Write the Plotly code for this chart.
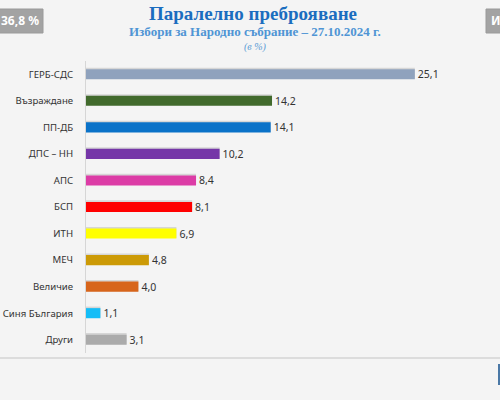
import plotly.graph_objects as go

categories = ["ГЕРБ-СДС", "Възраждане", "ПП-ДБ", "ДПС – НН", "АПС", "БСП", "ИТН",
              "МЕЧ", "Величие", "Синя България", "Други"]
values = [25.1, 14.2, 14.1, 10.2, 8.4, 8.1, 6.9, 4.8, 4.0, 1.1, 3.1]
colors = ["#8fa2bd", "#416a2c", "#0a72c8", "#7536a8", "#dc3ca6", "#ff0000", "#ffff00",
          "#cc9a06", "#d7651b", "#14bdf7", "#ababab"]

W, H = 500, 400
ML, MR, MT, MB = 86, 14, 61, 47
PW, PH = W - ML - MR, H - MT - MB


def px(x):
    return (x - ML) / PW


def py(y):
    return (H - MB - y) / PH


fig = go.Figure()
# soft shadow
fig.add_trace(go.Bar(
    x=values, y=categories, orientation="h",
    marker=dict(color="rgba(0,0,0,0.12)", line=dict(width=0)),
    width=0.42, offset=-0.25, hoverinfo="skip", showlegend=False,
))
fig.add_trace(go.Bar(
    x=values, y=categories, orientation="h",
    marker=dict(color=colors, line=dict(width=0)),
    width=0.38, offset=-0.19,
    text=[f"{v:.1f}".replace(".", ",") for v in values],
    textposition="outside", cliponaxis=False, constraintext="none",
    textfont=dict(family="Noto Sans", size=10.5, color="#333333"),
    showlegend=False,
))

fig.update_layout(
    width=W, height=H,
    margin=dict(l=ML, r=MR, t=MT, b=MB, autoexpand=False),
    paper_bgcolor="#f4f4f4", plot_bgcolor="#f4f4f4",
    barmode="overlay",
    xaxis=dict(range=[0, PW / 13.1], visible=False, automargin=False),
    yaxis=dict(autorange="reversed", showline=True, linecolor="#d6d6d6", linewidth=1,
               ticks="outside", ticklen=0, tickcolor="rgba(0,0,0,0)", ticklabelstandoff=10,
               showgrid=False, automargin=False,
               tickfont=dict(family="Noto Sans", size=9.6, color="#333333")),
    font=dict(family="Noto Sans"),
)

shapes = [
    dict(type="line", xref="paper", yref="paper", x0=px(0), x1=px(500), y0=py(358), y1=py(358),
         line=dict(color="#dcdcdc", width=2)),
    dict(type="rect", xref="paper", yref="paper", x0=px(-6), x1=px(43), y0=py(33), y1=py(9),
         fillcolor="#a3a3a3", line=dict(color="#9a9a9a", width=1)),
    dict(type="rect", xref="paper", yref="paper", x0=px(486), x1=px(506), y0=py(33), y1=py(9),
         fillcolor="#a3a3a3", line=dict(color="#9a9a9a", width=1)),
    dict(type="rect", xref="paper", yref="paper", x0=px(498), x1=px(501), y0=py(385), y1=py(364),
         fillcolor="#4a78a6", line=dict(width=0)),
]
fig.update_layout(shapes=shapes)

ann = [
    dict(text="<b>Паралелно преброяване</b>", x=px(253), y=py(14), xref="paper", yref="paper",
         showarrow=False, xanchor="center", yanchor="middle",
         font=dict(family="Liberation Serif", size=19, color="#1b6dbf")),
    dict(text="<b>Избори за Народно събрание – 27.10.2024 г.</b>", x=px(255), y=py(32),
         xref="paper", yref="paper", showarrow=False, xanchor="center", yanchor="middle",
         font=dict(family="Liberation Serif", size=13, color="#4f94d4")),
    dict(text="<i>(в %)</i>", x=px(255), y=py(47), xref="paper", yref="paper",
         showarrow=False, xanchor="center", yanchor="middle",
         font=dict(family="Liberation Serif", size=10, color="#5b9bd5")),
    dict(text="<b>36,8 %</b>", x=px(41), y=py(21), xref="paper", yref="paper",
         showarrow=False, xanchor="right", yanchor="middle",
         font=dict(family="Noto Sans", size=12, color="#ffffff")),
    dict(text="<b>И</b>", x=px(489), y=py(21), xref="paper", yref="paper",
         showarrow=False, xanchor="left", yanchor="middle",
         font=dict(family="Noto Sans", size=12, color="#ffffff")),
]
fig.update_layout(annotations=ann)

fig.write_html("out.html")
